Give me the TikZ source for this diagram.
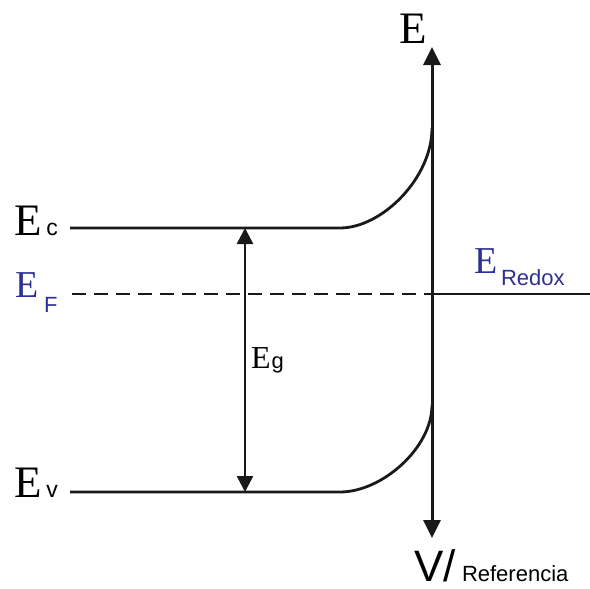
\documentclass[tikz,border=0pt]{standalone}
\usepackage{fontspec}
\setmainfont{Liberation Serif}
\setsansfont{Liberation Sans}
\usetikzlibrary{arrows.meta}
\definecolor{navy}{RGB}{46,49,146}
\newcommand{\fsz}[1]{\fontsize{#1}{#1}\selectfont}
\tikzset{
  lbl/.style={anchor=base west, inner sep=0pt, outer sep=0pt},
  band/.style={line width=2.8pt, black!90},
  axisline/.style={line width=3pt, black!90, {Triangle[length=18pt,width=17pt]}-{Triangle[length=18pt,width=17pt]}},
  gaparrow/.style={line width=2.6pt, black!90, {Triangle[length=16pt,width=16pt]}-{Triangle[length=16pt,width=16pt]}},
  fermi/.style={line width=2.8pt, black!90, dash pattern=on 14pt off 8pt},
}
\begin{document}
\begin{tikzpicture}[x=1pt,y=-1pt]
\useasboundingbox (0,0) rectangle (590,589);
% coordinates
\coordinate (axtop) at (432,47);
\coordinate (axbot) at (432,538);
\coordinate (cL) at (70,228);
\coordinate (cK) at (340,228);
\coordinate (cT) at (432,128);
\coordinate (vL) at (70,492);
\coordinate (vK) at (340,492);
\coordinate (vT) at (432,405);
\coordinate (fL) at (72,294);
\coordinate (fA) at (432,294);
\coordinate (fR) at (590,294);
\coordinate (gT) at (245,228);
\coordinate (gB) at (245,492);
% bands
\draw[band] (cL) -- (cK) .. controls (382,228) and (432,178) .. (cT);
\draw[band] (vL) -- (vK) .. controls (382,492) and (432,448) .. (vT);
\draw[fermi] (fL) -- (fA);
\draw[band] (fA) -- (fR);
% axis
\draw[axisline] (axbot) -- (axtop);
% gap
\draw[gaparrow] (gB) -- (gT);
% labels
\node[lbl] (Etop) at (399,43) {\fsz{45}E};
\node[lbl] (Ec) at (14,235) {\fsz{45}E\hspace{5pt}\sffamily\fsz{23}c};
\node[lbl] (Ev) at (14,497) {\fsz{45}E\hspace{5pt}\sffamily\fsz{23}v};
\node[lbl, text=navy] (Ef) at (16,297) {\fsz{38}E};
\node[lbl, text=navy] (Ff) at (44,312) {\sffamily\fsz{22}F};
\node[lbl, text=navy] (Er) at (474,273) {\fsz{38}E};
\node[lbl, text=navy] (Rr) at (501,285) {\sffamily\fsz{22}Redox};
\node[lbl] (Eg) at (251,368) {\fsz{32}E\hspace{1pt}\sffamily\fsz{22}g};
\node[lbl] (Vr) at (414,581) {\sffamily\fsz{44}V/};
\node[lbl] (Ref) at (462,581) {\sffamily\fsz{22}Referencia};
\end{tikzpicture}
\end{document}
